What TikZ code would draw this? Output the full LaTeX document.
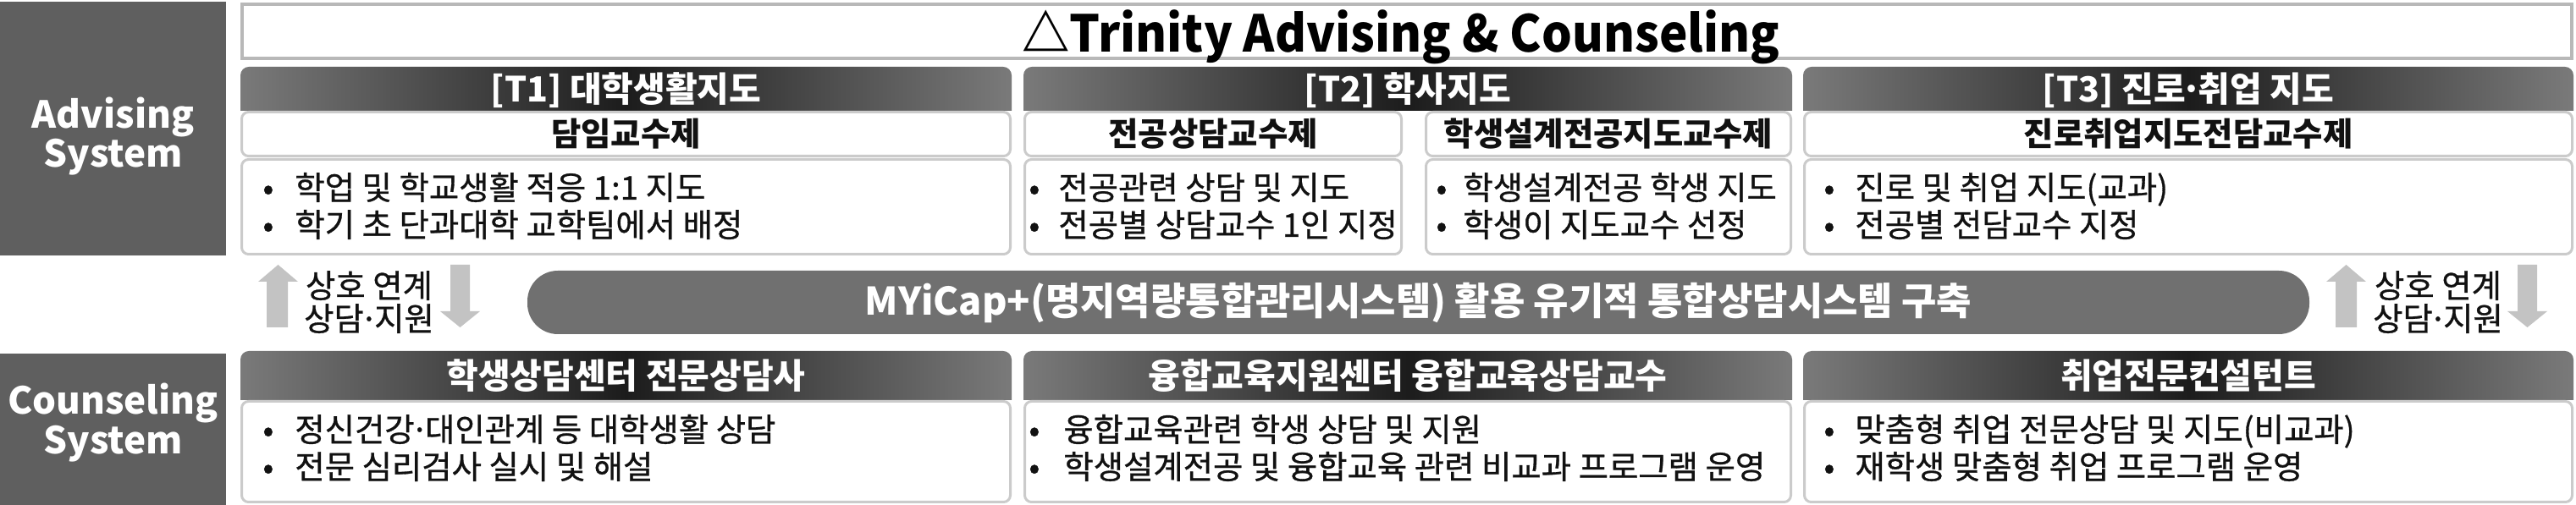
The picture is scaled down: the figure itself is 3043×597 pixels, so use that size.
\documentclass[tikz,border=0pt]{standalone}
\usepackage{fontspec}
\setmainfont{Noto Sans CJK KR}
\newfontfamily\krm[FakeBold=0.8]{Noto Sans CJK KR}
\newfontfamily\krt[FakeStretch=0.94]{Noto Sans CJK KR}
\definecolor{leftbox}{HTML}{5F5F5F}
\definecolor{bordergray}{HTML}{CBCBCB}
\definecolor{titleborder}{HTML}{B8B8B8}
\definecolor{arrgray}{HTML}{C3C3C3}
\definecolor{bargray}{HTML}{707070}
\definecolor{hdredge}{HTML}{7A7A7A}
\definecolor{hdrmid}{HTML}{1C1C1C}
\definecolor{txt}{HTML}{111111}
\newcommand\md{\kern-.12em·\kern-.12em}
\newcommand\bitem[5]{\node[btxt,anchor=base west] (#1) at (#2,#3) {\makebox[#4pt][l]{•}#5};}
\begin{document}
\begin{tikzpicture}[x=0.5pt,y=-0.5pt,
  lbox/.style={fill=leftbox,draw=none},
  ltxt/.style={text=white,font=\bfseries\fontsize{22pt}{22pt}\selectfont,inner sep=0pt,anchor=base},
  hdr/.style={left color=hdredge,right color=hdredge,middle color=hdrmid,draw=none},
  wbox/.style={fill=white,draw=bordergray,line width=1.5pt,rounded corners=4pt},
  htxt/.style={text=white,font=\bfseries\fontsize{20.5pt}{21pt}\selectfont,inner sep=0pt,anchor=base},
  stxt/.style={text=txt,font=\bfseries\fontsize{19.2pt}{19pt}\selectfont,inner sep=0pt,anchor=base},
  btxt/.style={text=txt,font=\krm\fontsize{19.2pt}{19pt}\selectfont,inner sep=0pt},
  mtxt/.style={text=txt,font=\krm\fontsize{19.2pt}{19pt}\selectfont,inner sep=0pt,anchor=base},
  arr/.style={fill=arrgray,draw=none}]
\useasboundingbox (0,0) rectangle (3043,597);

% left system boxes
\fill[lbox] (0,2) rectangle (267,302);
\fill[lbox] (0,418) rectangle (267,597);
\node[ltxt] (advA) at (133.5,152) {Advising};
\node[ltxt] (advB) at (133.5,198) {System};
\node[ltxt] (couA) at (133.5,490) {Counseling};
\node[ltxt] (couB) at (133.5,537) {System};

% title
\draw[fill=white,draw=titleborder,line width=2pt] (286,5) rectangle (3038,69);
\node[text=black,font=\krt\bfseries\fontsize{30pt}{30pt}\selectfont,inner sep=0pt,anchor=base] (title) at (1655,62) {△Trinity Advising \& Counseling};

% ---- top columns ----
% T1
\path[hdr] (284,131) [rounded corners=5pt] -- (284,79) -- (1195,79) [sharp corners] -- (1195,131) -- cycle;
\draw[wbox] (285.5,132.5) rectangle (1193.5,184.5);
\draw[wbox] (285.5,188.5) rectangle (1193.5,300.5);
\node[htxt] (t1h) at (739.5,121) {[T1] 대학생활지도};
\node[stxt] (t1s) at (739.5,173) {담임교수제};
\bitem{t1a}{310}{236}{19}{학업 및 학교생활 적응 1:1 지도}
\bitem{t1b}{310}{280}{19}{학기 초 단과대학 교학팀에서 배정}

% T2
\path[hdr] (1209,131) [rounded corners=5pt] -- (1209,79) -- (2117,79) [sharp corners] -- (2117,131) -- cycle;
\draw[wbox] (1210.5,132.5) rectangle (1655.5,184.5);
\draw[wbox] (1210.5,188.5) rectangle (1655.5,300.5);
\draw[wbox] (1684.5,132.5) rectangle (2115.5,184.5);
\draw[wbox] (1684.5,188.5) rectangle (2115.5,300.5);
\node[htxt] (t2h) at (1663,121) {[T2] 학사지도};
\node[stxt] (t2s1) at (1433,173) {전공상담교수제};
\node[stxt] (t2s2) at (1900,173) {학생설계전공지도교수제};
\bitem{t2a}{1215}{236}{17.5}{전공관련 상담 및 지도}
\bitem{t2b}{1215}{280}{17.5}{전공별 상담교수 1인 지정}
\bitem{t2c}{1696}{236}{16}{학생설계전공 학생 지도}
\bitem{t2d}{1696}{280}{16}{학생이 지도교수 선정}

% T3
\path[hdr] (2130,131) [rounded corners=5pt] -- (2130,79) -- (3040,79) [sharp corners] -- (3040,131) -- cycle;
\draw[wbox] (2131.5,132.5) rectangle (3038.5,184.5);
\draw[wbox] (2131.5,188.5) rectangle (3038.5,300.5);
\node[htxt] (t3h) at (2585,121) {[T3] 진로\md 취업 지도};
\node[stxt] (t3s) at (2585,173) {진로취업지도전담교수제};
\bitem{t3a}{2154}{236}{18.5}{진로 및 취업 지도(교과)}
\bitem{t3b}{2154}{280}{18.5}{전공별 전담교수 지정}

% ---- middle row ----
\fill[arr] (315,387) -- (315,333) -- (305,333) -- (328.5,313) -- (352,333) -- (340,333) -- (340,387) -- cycle;
\fill[arr] (532,313) -- (532,368) -- (520,368) -- (543.5,387) -- (567,368) -- (555,368) -- (555,313) -- cycle;
\node[mtxt] (mlA) at (436,352) {상호 연계};
\node[mtxt] (mlB) at (436,391) {상담\md 지원};
\fill[bargray,rounded corners=18pt] (623,320) rectangle (2728,395);
\node[text=white,font=\bfseries\fontsize{22.5pt}{22pt}\selectfont,inner sep=0pt,anchor=base] (bar) at (1675.5,373) {MYiCap+(명지역량통합관리시스템) 활용 유기적 통합상담시스템 구축};
\fill[arr] (2759,387) -- (2759,333) -- (2748,333) -- (2771.5,313) -- (2795,333) -- (2784,333) -- (2784,387) -- cycle;
\fill[arr] (2974,313) -- (2974,368) -- (2962,368) -- (2985.5,387) -- (3009,368) -- (2997,368) -- (2997,313) -- cycle;
\node[mtxt] (mrA) at (2880,352) {상호 연계};
\node[mtxt] (mrB) at (2880,391) {상담\md 지원};

% ---- bottom columns ----
\path[hdr] (284,473) [rounded corners=5pt] -- (284,415) -- (1195,415) [sharp corners] -- (1195,473) -- cycle;
\draw[wbox] (285.5,474.5) rectangle (1193.5,593.5);
\node[htxt] (b1h) at (739.5,460) {학생상담센터 전문상담사};
\bitem{b1a}{310}{522}{19}{정신건강\md 대인관계 등 대학생활 상담}
\bitem{b1b}{310}{566}{19}{전문 심리검사 실시 및 해설}

\path[hdr] (1209,473) [rounded corners=5pt] -- (1209,415) -- (2117,415) [sharp corners] -- (2117,473) -- cycle;
\draw[wbox] (1210.5,474.5) rectangle (2115.5,593.5);
\node[htxt] (b2h) at (1663,460) {융합교육지원센터 융합교육상담교수};
\bitem{b2a}{1215}{522}{20.5}{융합교육관련 학생 상담 및 지원}
\bitem{b2b}{1215}{566}{20.5}{학생설계전공 및 융합교육 관련 비교과 프로그램 운영}

\path[hdr] (2130,473) [rounded corners=5pt] -- (2130,415) -- (3040,415) [sharp corners] -- (3040,473) -- cycle;
\draw[wbox] (2131.5,474.5) rectangle (3038.5,593.5);
\node[htxt] (b3h) at (2585,460) {취업전문컨설턴트};
\bitem{b3a}{2154}{522}{18.5}{맞춤형 취업 전문상담 및 지도(비교과)}
\bitem{b3b}{2154}{566}{18.5}{재학생 맞춤형 취업 프로그램 운영}
\end{tikzpicture}
\end{document}
